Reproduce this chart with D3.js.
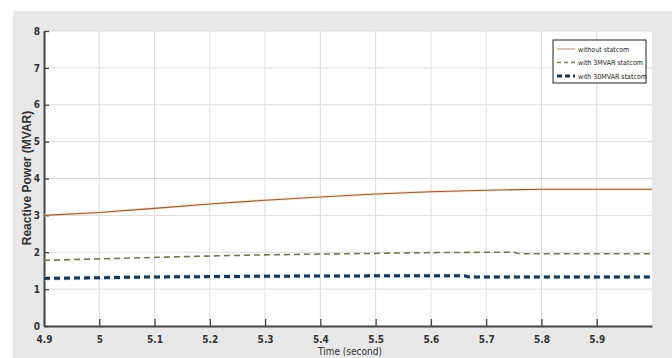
<!DOCTYPE html>
<html><head><meta charset="utf-8">
<script src="https://cdn.jsdelivr.net/npm/d3@7"></script>
<style>body{margin:0;background:#fff}svg{display:block}</style>
</head><body>
<svg id="c" width="672" height="358"></svg>
<script>
const timeNoStat = [4.9, 5.0, 5.1, 5.2, 5.3, 5.4, 5.5, 5.6, 5.7, 5.8, 5.9, 6.0];
const withoutStatcom = [3.0, 3.08, 3.19, 3.31, 3.41, 3.5, 3.58, 3.64, 3.68, 3.71, 3.71, 3.71];
const time3 = [4.9, 5.0, 5.1, 5.2, 5.3, 5.4, 5.5, 5.6, 5.7, 5.75, 5.76, 5.8, 5.9, 6.0];
const with3MVAR = [1.78, 1.82, 1.86, 1.9, 1.93, 1.95, 1.97, 1.99, 2.0, 2.0, 1.96, 1.96, 1.96, 1.96];
const time30 = [4.9, 5.0, 5.1, 5.2, 5.3, 5.4, 5.5, 5.6, 5.66, 5.67, 5.8, 5.9, 6.0];
const with30MVAR = [1.29, 1.31, 1.33, 1.34, 1.35, 1.355, 1.36, 1.36, 1.36, 1.33, 1.33, 1.33, 1.33];
const xTicks = [4.9, 5.0, 5.1, 5.2, 5.3, 5.4, 5.5, 5.6, 5.7, 5.8, 5.9];
const yTicks = [0, 1, 2, 3, 4, 5, 6, 7, 8];
const legendLabels = ["without statcom", "with 3MVAR statcom", "with 30MVAR statcom"];

const svg = d3.select("#c");
svg.append("rect").attr("x", 13).attr("y", 11).attr("width", 659).attr("height", 347).attr("fill", "#e8e8e8");

const L = 44, R = 652, T = 31, B = 326;
const x = d3.scaleLinear().domain([4.9, 6.0]).range([L, R]);
const y = d3.scaleLinear().domain([0, 8]).range([B, T]);

svg.append("rect").attr("x", L).attr("y", T).attr("width", R - L).attr("height", B - T).attr("fill", "#fff");

const font = "'DejaVu Sans Condensed', 'Liberation Sans Narrow', sans-serif";
// grid
svg.append("g").selectAll("line").data(xTicks.slice(1)).join("line")
  .attr("x1", d => x(d)).attr("x2", d => x(d)).attr("y1", T).attr("y2", B)
  .attr("stroke", "#dcdcdc").attr("stroke-width", 1);
svg.append("g").selectAll("line").data(yTicks.slice(1)).join("line")
  .attr("x1", L).attr("x2", R).attr("y1", d => y(d)).attr("y2", d => y(d))
  .attr("stroke", "#dcdcdc").attr("stroke-width", 1);

// axes
const xAxis = svg.append("g").attr("transform", `translate(0,${B})`)
  .call(d3.axisBottom(x).tickValues(xTicks).tickSizeInner(-7).tickSizeOuter(0).tickPadding(10)
    .tickFormat(d => d3.format("")(+d.toFixed(1))));
const yAxis = svg.append("g").attr("transform", `translate(${L},0)`)
  .call(d3.axisLeft(y).tickValues(yTicks).tickSizeInner(-5).tickSizeOuter(0).tickPadding(4));
[xAxis, yAxis].forEach(a => {
  a.select(".domain").attr("stroke", "#444").attr("stroke-width", 2);
  a.selectAll(".tick line").attr("stroke", "#444").attr("stroke-width", 1.3);
  a.selectAll(".tick text").attr("fill", "#333").style("font-family", font).style("font-size", "10px").style("font-weight", "bold");
});

const line = (xs) => d3.line().x((d, i) => x(xs[i])).y(d => y(d));

// lines
svg.append("path").datum(withoutStatcom).attr("d", line(timeNoStat)).attr("fill", "none")
  .attr("stroke", "#f6d6b8").attr("stroke-width", 3).attr("opacity", 0.6);
svg.append("path").datum(withoutStatcom).attr("d", line(timeNoStat)).attr("fill", "none")
  .attr("stroke", "#8e5f43").attr("stroke-width", 1.1);
svg.append("path").datum(with3MVAR).attr("d", line(time3)).attr("fill", "none")
  .attr("stroke", "#6f7a52").attr("stroke-width", 1.6).attr("stroke-dasharray", "6,4");
svg.append("path").datum(with30MVAR).attr("d", line(time30)).attr("fill", "none")
  .attr("stroke", "#9fd6e6").attr("stroke-width", 4.5).attr("stroke-dasharray", "6,4").attr("opacity", 0.6);
svg.append("path").datum(with30MVAR).attr("d", line(time30)).attr("fill", "none")
  .attr("stroke", "#1d3550").attr("stroke-width", 3).attr("stroke-dasharray", "6,4");

// legend
const lg = svg.append("g");
lg.append("rect").attr("x", 553).attr("y", 40).attr("width", 93).attr("height", 43)
  .attr("fill", "#fff").attr("stroke", "#222").attr("stroke-width", 1);
const styles = [
  {c: "#b08a70", w: 1, d: null},
  {c: "#7a8456", w: 1.4, d: "4,3"},
  {c: "#1d3550", w: 3, d: "5,3"}
];
legendLabels.forEach((t, i) => {
  const yy = 49 + i * 13.5;
  lg.append("line").attr("x1", 557).attr("x2", 575).attr("y1", yy).attr("y2", yy)
    .attr("stroke", styles[i].c).attr("stroke-width", styles[i].w).attr("stroke-dasharray", styles[i].d);
  lg.append("text").attr("x", 578).attr("y", yy + 2.5).text(t)
    .style("font-family", font).style("font-size", "7px").attr("fill", "#222");
});

// labels
svg.append("text").attr("transform", "translate(31,178) rotate(-90)").attr("text-anchor", "middle")
  .style("font-family", "'Liberation Sans', Arial, sans-serif").style("font-size", "12px").style("font-weight", "bold")
  .attr("fill", "#333").text("Reactive Power (MVAR)");
svg.append("text").attr("x", 350).attr("y", 355).attr("text-anchor", "middle")
  .style("font-family", font).style("font-size", "10px").attr("fill", "#333").text("Time (second)");
</script>
</body></html>
